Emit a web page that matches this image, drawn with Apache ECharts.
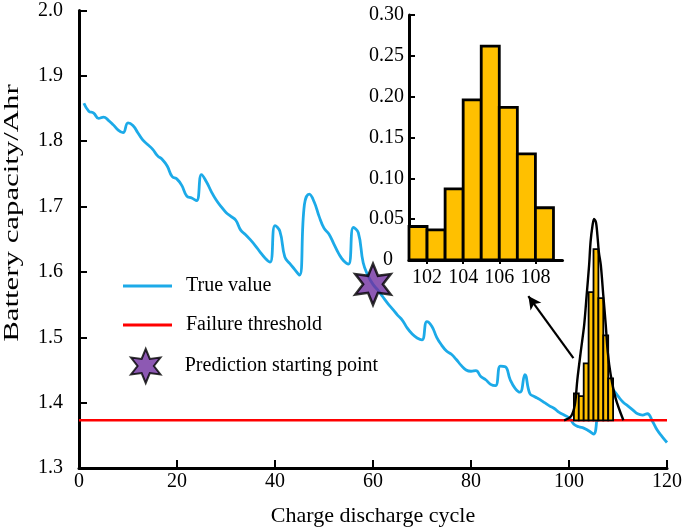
<!DOCTYPE html>
<html>
<head>
<meta charset="utf-8">
<script src="https://cdn.jsdelivr.net/npm/echarts@6/dist/echarts.min.js"></script>
<style>
html,body{margin:0;padding:0;background:#fff;}
#chart{width:685px;height:532px;}
</style>
</head>
<body>
<div id="chart"></div>
<script>
// ---- data ----
const capacity = [
1.858,1.846,1.843,1.835,1.837,1.832,1.825,1.817,1.813,1.828,
1.824,1.813,1.802,1.795,1.788,1.778,1.772,1.762,1.746,1.742,
1.732,1.716,1.713,1.709,1.749,1.738,1.723,1.710,1.700,1.691,
1.685,1.679,1.664,1.657,1.649,1.640,1.630,1.621,1.615,1.671,
1.662,1.623,1.613,1.604,1.595,1.703,1.719,1.707,1.685,1.667,
1.658,1.643,1.628,1.617,1.612,1.668,1.660,1.614,1.594,1.581,
1.572,1.562,1.552,1.543,1.534,1.526,1.514,1.505,1.499,1.496,
1.524,1.517,1.500,1.488,1.479,1.474,1.466,1.457,1.450,1.448,
1.449,1.440,1.435,1.428,1.426,1.456,1.455,1.435,1.422,1.416,
1.443,1.414,1.409,1.405,1.400,1.395,1.391,1.385,1.381,1.377,
1.367,1.363,1.361,1.357,1.352,1.395,1.422,1.428,1.420,1.410,
1.401,1.395,1.389,1.383,1.381,1.383,1.372,1.358,1.348,1.339
];
const firstCycle = 1;
const failureThreshold = 1.373;
const thresholdSpan = [0, 120];
const startPoint = [60, 1.581];

// predicted RUL histogram (inset)
const binLow = [101, 102, 103, 104, 105, 106, 107, 108];
const binWidth = 1;
const binProb = [0.041, 0.037, 0.087, 0.196, 0.262, 0.187, 0.130, 0.064];
const histScaleOnMain = 1.0; // probability -> capacity units on main chart

// fitted density outline on main chart
const bellCycle = [99.0,100.4,101.2,101.7,102.4,103.1,103.6,104.1,104.4,104.8,105.1,105.5,105.8,106.1,106.5,107.0,107.5,107.9,108.5,109.5,111.1];
const bellCap   = [1.373,1.379,1.397,1.435,1.478,1.519,1.564,1.610,1.646,1.671,1.681,1.676,1.656,1.630,1.610,1.564,1.519,1.478,1.443,1.407,1.373];

// arrow (from main histogram towards inset)
const arrowFrom = [100.9, 1.468];
const arrowTo = [91.7, 1.563];

const mainXTicks = {min: 0, max: 120, interval: 20};
const mainYTicks = {min: 1.3, max: 2.0, interval: 0.1};
const insetXLabels = [102, 104, 106, 108];
const insetXRange = [101, 109.5];
const insetYTicks = {min: 0, max: 0.30, interval: 0.05};

// ---- build ----
const FONT = "'Liberation Serif','Times New Roman',serif";
const truePairs = capacity.map((v, i) => [firstCycle + i, v]);
const histData = binLow.map((lo, i) => [lo, lo + binWidth, binProb[i]]);
const bellData = bellCycle.map((c, i) => [c, bellCap[i]]);

function starPath(n, R, r) {
  let d = '';
  for (let i = 0; i < 2 * n; i++) {
    const a = -Math.PI / 2 + i * Math.PI / n;
    const rad = i % 2 === 0 ? R : r;
    const x = (rad * Math.cos(a)).toFixed(3), y = (rad * Math.sin(a)).toFixed(3);
    d += (i === 0 ? 'M' : 'L') + x + ',' + y + ' ';
  }
  return 'path://' + d + 'Z';
}
const STAR = starPath(6, 10, 4.8);
const LINE_ICON = 'path://M0,0L49,0L49,3L0,3Z';

function histRender(base, scale, lw) {
  return function (params, api) {
    const lo = api.value(0), hi = api.value(1), p = api.value(2);
    const a = api.coord([lo, base + p * scale]);
    const b = api.coord([hi, base]);
    return {
      type: 'rect',
      shape: {x: a[0], y: a[1], width: b[0] - a[0], height: b[1] - a[1]},
      style: {fill: '#FFC000', stroke: '#000', lineWidth: lw}
    };
  };
}

const axisLineStyle = {show: true, lineStyle: {color: '#000', width: 3}};
const labelStyle = {color: '#000', fontFamily: FONT, fontSize: 20};

function legendAt(name, left, top, w, h, icon, textPad) {
  const item = icon ? {name: name, icon: icon} : {name: name};
  return {
    orient: 'vertical', left: left, top: top, padding: 0,
    itemWidth: w, itemHeight: h, symbolKeepAspect: true,
    textStyle: {color: '#000', fontFamily: FONT, fontSize: 20, padding: [0, 0, 0, textPad]},
    data: [item], selectedMode: false
  };
}

const option = {
  animation: false,
  backgroundColor: '#fff',
  grid: [
    {left: 79, top: 10.5, width: 591, height: 460.5, containLabel: false},
    {left: 409, top: 15, width: 153.5, height: 245, containLabel: false}
  ],
  xAxis: [
    {
      type: 'value', gridIndex: 0, min: mainXTicks.min, max: mainXTicks.max, interval: mainXTicks.interval,
      axisLine: axisLineStyle,
      axisTick: {show: true, inside: true, length: 8, lineStyle: {color: '#000', width: 2}},
      axisLabel: Object.assign({margin: 4}, labelStyle),
      splitLine: {show: false},
      name: 'Charge discharge cycle', nameLocation: 'middle', nameGap: 37,
      nameTextStyle: {color: '#000', fontFamily: FONT, fontSize: 22}
    },
    {
      type: 'value', gridIndex: 1, min: insetXRange[0], max: insetXRange[1],
      axisLine: axisLineStyle,
      axisTick: {show: true, inside: false, length: 4, customValues: insetXLabels, lineStyle: {color: '#000', width: 2}},
      axisLabel: Object.assign({margin: 8, customValues: insetXLabels}, labelStyle),
      splitLine: {show: false}
    }
  ],
  yAxis: [
    {
      type: 'value', gridIndex: 0, min: mainYTicks.min, max: mainYTicks.max, interval: mainYTicks.interval,
      axisLine: axisLineStyle,
      axisTick: {show: true, inside: true, length: 8, lineStyle: {color: '#000', width: 2}},
      axisLabel: Object.assign({margin: 16, formatter: v => v.toFixed(1)}, labelStyle),
      splitLine: {show: false}
    },
    {
      type: 'value', gridIndex: 1, min: insetYTicks.min, max: insetYTicks.max, interval: insetYTicks.interval,
      axisLine: axisLineStyle,
      axisTick: {show: true, inside: true, length: 6, lineStyle: {color: '#000', width: 2}},
      axisLabel: Object.assign({
        margin: 5,
        formatter: v => (Math.abs(v) < 1e-9 ? '{z|0}' : v.toFixed(2)),
        rich: {z: {fontFamily: FONT, fontSize: 20, color: '#000', padding: [0, 11, 0, 0]}}
      }, labelStyle),
      splitLine: {show: false}
    }
  ],
  legend: [
    legendAt('True value', 123, 276, 49, 20, LINE_ICON, 9),
    legendAt('Failure threshold', 123, 315, 49, 20, LINE_ICON, 9),
    legendAt('Prediction starting point', 130, 348, 34, 34, null, 17)
  ],
  graphic: [
    {
      type: 'text', x: 12, y: 213, rotation: Math.PI / 2, scaleX: 1.4, scaleY: 1,
      style: {text: 'Battery capacity/Ahr', fontFamily: FONT, fontSize: 22, fill: '#000', align: 'center', verticalAlign: 'middle'}
    }
  ],
  series: [
    {
      name: 'True value', type: 'line', xAxisIndex: 0, yAxisIndex: 0,
      data: truePairs, showSymbol: false, symbol: 'none', smooth: 0.45,
      lineStyle: {color: '#1CAAE8', width: 2.8}, itemStyle: {color: '#1CAAE8'}, z: 2
    },
    {
      name: 'Failure threshold', type: 'line', xAxisIndex: 0, yAxisIndex: 0,
      data: thresholdSpan.map(c => [c, failureThreshold]), showSymbol: false, symbol: 'none',
      lineStyle: {color: '#FF0000', width: 2.6}, itemStyle: {color: '#FF0000'}, z: 3
    },
    {
      name: 'rul-hist-main', type: 'custom', xAxisIndex: 0, yAxisIndex: 0,
      renderItem: histRender(failureThreshold, histScaleOnMain, 1.8),
      data: histData, encode: {x: [0, 1], y: 2}, z: 4, silent: true
    },
    {
      name: 'rul-density', type: 'line', xAxisIndex: 0, yAxisIndex: 0,
      data: bellData, showSymbol: false, symbol: 'none', smooth: 0.3,
      lineStyle: {color: '#000', width: 2.4}, z: 5, silent: true,
      markLine: {
        silent: true, symbol: ['none', 'arrow'], symbolSize: [10, 13],
        lineStyle: {color: '#000', width: 2.2, type: 'solid'}, label: {show: false},
        data: [[{coord: arrowFrom}, {coord: arrowTo}]]
      }
    },
    {
      name: 'Prediction starting point', type: 'scatter', xAxisIndex: 0, yAxisIndex: 0,
      data: [startPoint], symbol: STAR, symbolSize: 41, symbolKeepAspect: true,
      itemStyle: {color: '#7030A0', borderColor: '#000', borderWidth: 2.5}, z: 6
    },
    {
      name: 'rul-hist-inset', type: 'custom', xAxisIndex: 1, yAxisIndex: 1,
      renderItem: histRender(0, 1, 2.8),
      data: histData, encode: {x: [0, 1], y: 2}, z: 4, silent: true
    }
  ]
};

const chart = echarts.init(document.getElementById('chart'), null, {renderer: 'canvas'});
chart.setOption(option);
</script>
</body>
</html>
